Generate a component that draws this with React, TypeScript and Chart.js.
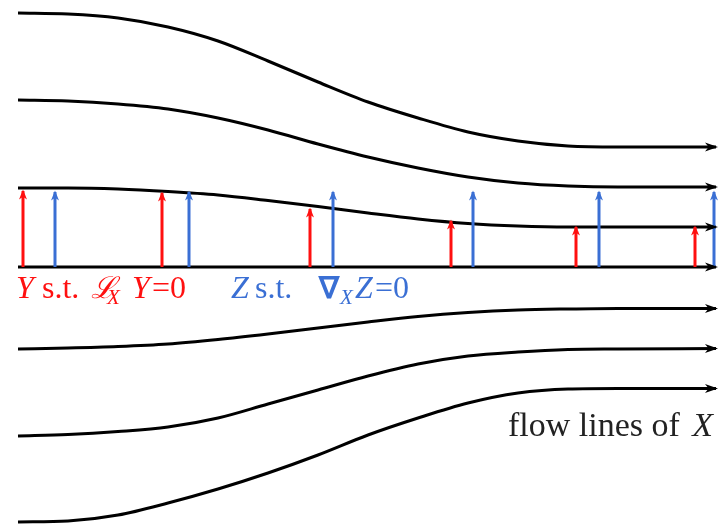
import React, { useEffect, useRef } from "react";
import { Chart, registerables } from "chart.js";

Chart.register(...registerables);

// Flow lines of X: common sample positions along the flow and the height of each line
const flowX = [18, 68, 118, 168, 218, 268, 318, 368, 418, 468, 518, 568, 618, 716];
const flowLine1 = [254, 253, 249, 240, 226, 206, 185, 165, 149, 135, 126, 121, 120, 120];
const flowLine2 = [167, 166, 163, 158, 149, 137, 123, 110, 99, 90, 84, 81, 80, 80];
const flowLine3 = [79, 79, 78, 75.5, 72, 66.5, 60.5, 54, 48, 43.5, 41, 40, 40, 40];
const flowLine4 = [0, 0, 0, 0, 0, 0, 0, 0, 0, 0, 0, 0, 0, 0];
const flowLine5 = [-82, -81, -79.5, -77, -72.5, -67, -61, -55, -49.5, -45.5, -43, -42, -41.5, -41.5];
const flowLine6 = [-169, -167.5, -164.5, -160, -151, -137, -123, -109, -97, -89, -85, -82.5, -82, -81.5];
const flowLine7 = [-255, -254, -248, -236, -222, -206, -188, -168, -151, -136, -126, -122, -121.5, -121.5];
const flowLines = [flowLine1, flowLine2, flowLine3, flowLine4, flowLine5, flowLine6, flowLine7];

// Y s.t. L_X Y = 0 (red vectors, Lie-dragged along the flow)
const redX = [23, 162, 310, 451, 576, 695];
const redTop = [76, 74, 58, 46, 40, 40];

// Z s.t. nabla_X Z = 0 (blue vectors, parallel transported)
const blueX = [55, 189, 333, 473, 599, 714];
const blueTop = [75, 75, 75, 75, 75, 75];

const RED = "#ff1010";
const BLUE = "#3a6fd4";
const INK = "#222";
const LIB = '"Liberation Serif"';
const DJV = '"DejaVu Serif"';

const arrowPlugin = {
  id: "arrowHeads",
  afterDatasetsDraw(chart: any) {
    const ctx = chart.ctx;
    chart.data.datasets.forEach((ds: any, i: number) => {
      if (!ds.arrow) return;
      const meta = chart.getDatasetMeta(i);
      const pts = meta.data;
      const n = pts.length;
      if (n < 2) return;
      const a = pts[n - 2];
      const b = pts[n - 1];
      const dx = b.x - a.x;
      const dy = b.y - a.y;
      const len = Math.hypot(dx, dy) || 1;
      const ux = dx / len;
      const uy = dy / len;
      const px = -uy;
      const py = ux;
      const { length, half, ext } = ds.arrow;
      const tx = b.x + ux * ext;
      const ty = b.y + uy * ext;
      const bx = tx - ux * length;
      const by = ty - uy * length;
      const nx = tx - ux * length * 0.72;
      const ny = ty - uy * length * 0.72;
      ctx.save();
      ctx.fillStyle = ds.borderColor;
      ctx.beginPath();
      ctx.moveTo(tx, ty);
      ctx.lineTo(bx + px * half, by + py * half);
      ctx.lineTo(nx, ny);
      ctx.lineTo(bx - px * half, by - py * half);
      ctx.closePath();
      ctx.fill();
      ctx.restore();
    });
  },
};

type LabelProps = {
  x?: number;
  right?: number;
  base: number;
  size: number;
  family?: string;
  italic?: boolean;
  bold?: boolean;
  color: string;
  children: React.ReactNode;
};

function Label({ x, right, base, size, family = LIB, italic, bold, color, children }: LabelProps) {
  const asc = family === DJV ? 0.846 : 0.8375;
  const style: React.CSSProperties = {
    position: "absolute",
    top: base - asc * size,
    fontFamily: family,
    fontSize: size,
    lineHeight: `${size}px`,
    fontStyle: italic ? "italic" : "normal",
    fontWeight: bold ? "bold" : "normal",
    color,
    whiteSpace: "nowrap",
  };
  if (right !== undefined) style.right = right;
  else style.left = x;
  return <span style={style}>{children}</span>;
}

export default function App() {
  const ref = useRef<HTMLCanvasElement | null>(null);
  useEffect(() => {
    if (!ref.current) return;
    const datasets: any[] = [];
    redX.forEach((x, i) => {
      datasets.push({
        data: [
          { x, y: 0 },
          { x, y: redTop[i] },
        ],
        borderColor: RED,
        borderWidth: 3,
        pointRadius: 0,
        clip: false,
        arrow: { length: 10, half: 4, ext: 1.5 },
      });
    });
    blueX.forEach((x, i) => {
      datasets.push({
        data: [
          { x, y: 0 },
          { x, y: blueTop[i] },
        ],
        borderColor: BLUE,
        borderWidth: 3,
        pointRadius: 0,
        clip: false,
        arrow: { length: 10, half: 4, ext: 1.5 },
      });
    });
    flowLines.forEach((ys) => {
      datasets.push({
        data: flowX.map((x, j) => ({ x, y: ys[j] })),
        borderColor: "#000",
        borderWidth: 3,
        pointRadius: 0,
        cubicInterpolationMode: "monotone",
        clip: false,
        arrow: { length: 13, half: 4.5, ext: 2 },
      });
    });
    const chart = new Chart(ref.current, {
      type: "line",
      data: { datasets },
      options: {
        animation: false,
        responsive: false,
        events: [],
        layout: { padding: 0 },
        plugins: { legend: { display: false }, tooltip: { enabled: false } },
        scales: {
          x: { type: "linear", min: 0, max: 720, display: false },
          y: { type: "linear", min: -260, max: 267, display: false },
        },
      },
      plugins: [arrowPlugin],
    } as any);
    return () => chart.destroy();
  }, []);
  return (
    <div style={{ position: "absolute", left: 0, top: 0, width: 720, height: 527, background: "#fff", overflow: "hidden" }}>
      <canvas ref={ref} width={720} height={527} style={{ position: "absolute", left: 0, top: 0 }} />
      {/* Y s.t. L_X Y = 0 */}
      <Label x={16} base={298} size={32} italic color={RED}>Y</Label>
      <Label x={42} base={298} size={32} color={RED}>s.t.</Label>
      <Label x={91} base={298} size={30} family={DJV} italic color={RED}>{"\u2112"}</Label>
      <Label x={107} base={305} size={21} italic color={RED}>X</Label>
      <Label x={132} base={298} size={32} italic color={RED}>Y</Label>
      <Label x={152} base={298} size={32} color={RED}>=0</Label>
      {/* Z s.t. nabla_X Z = 0 */}
      <Label x={231} base={298} size={32} italic color={BLUE}>Z</Label>
      <Label x={255} base={298} size={32} color={BLUE}>s.t.</Label>
      <Label x={319} base={298} size={30} bold color={BLUE}>{"\u2207"}</Label>
      <Label x={340} base={305} size={21} italic color={BLUE}>X</Label>
      <Label x={355} base={298} size={32} italic color={BLUE}>Z</Label>
      <Label x={375} base={298} size={32} color={BLUE}>=0</Label>
      {/* flow lines of X */}
      <Label x={508} base={436} size={34} color={INK}>flow lines of</Label>
      <Label right={7} base={436} size={34} italic color={INK}>X</Label>
    </div>
  );
}
